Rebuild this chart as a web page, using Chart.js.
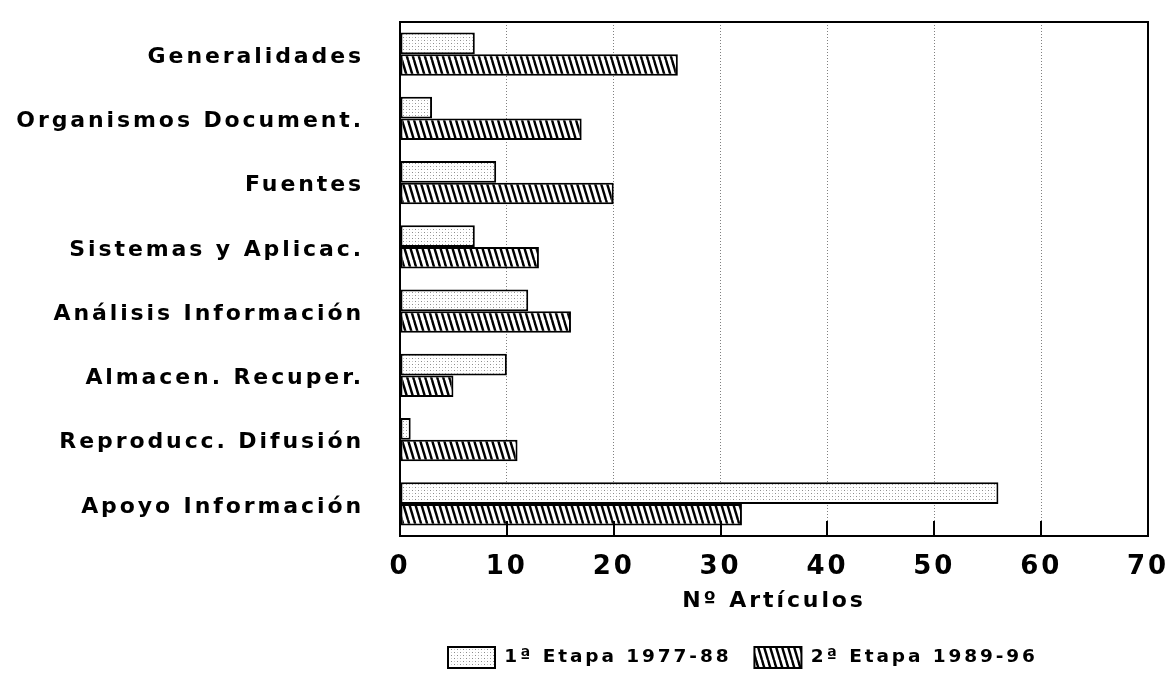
<!DOCTYPE html>
<html><head><meta charset="utf-8">
<script src="https://cdn.jsdelivr.net/npm/chart.js@4/dist/chart.umd.min.js"></script>
<style>html,body{margin:0;padding:0;background:#fff}#wrap{width:1169px;height:673px;position:relative}</style>
</head><body><div id="wrap"><canvas id="c"></canvas></div>
<script>
const categories = ['Generalidades','Organismos Document.','Fuentes','Sistemas y Aplicac.','Análisis Información','Almacen. Recuper.','Reproducc. Difusión','Apoyo Información'];
const seriesNames = ['1ª Etapa 1977-88','2ª Etapa 1989-96'];
const etapa1 = [7,3,9,7,12,10,1,56];
const etapa2 = [26,17,20,13,16,5,11,32];
const xTicks = [0,10,20,30,40,50,60,70];
const axisTitle = 'Nº Artículos';

const FONT = "'DejaVu Sans', sans-serif";
const SPACING = '2.9px';

function stipple(){
  const c=document.createElement('canvas'); c.width=6; c.height=6;
  const g=c.getContext('2d');
  g.fillStyle='#fff'; g.fillRect(0,0,6,6);
  g.fillStyle='#8a8a8a'; g.fillRect(1,1,1,1); g.fillRect(4,4,1,1);
  g.fillStyle='#c8c8c8'; g.fillRect(4,1,1,1); g.fillRect(1,4,1,1);
  return g.createPattern(c,'repeat');
}
function hatch(){
  const w=6,h=20;
  const c=document.createElement('canvas'); c.width=w; c.height=h;
  const g=c.getContext('2d');
  g.fillStyle='#fff'; g.fillRect(0,0,w,h);
  g.strokeStyle='#000'; g.lineWidth=2.4;
  for(let k=-1;k<=1;k++){ g.beginPath(); g.moveTo(k*w,0); g.lineTo(k*w+w,h); g.stroke(); }
  return g.createPattern(c,'repeat');
}

const spacingPlugin = {
  id:'spacing',
  beforeLayout(chart){ chart.ctx.letterSpacing = SPACING; },
  beforeDraw(chart){ chart.ctx.letterSpacing = SPACING; }
};
const legendShift = {
  id:'legendShift',
  afterLayout(chart){
    const L = chart.legend; if(!L) return;
    const dx = 25, dy = 5;
    L.left += dx; L.right += dx; L.top += dy; L.bottom += dy;
  }
};
const framePlugin = {
  id:'frame',
  afterDatasetsDraw(chart){
    const {ctx, chartArea:a, scales:{x}} = chart;
    ctx.save();
    ctx.strokeStyle='#000'; ctx.lineWidth=2;
    ctx.strokeRect(a.left, a.top, a.right-a.left, a.bottom-a.top);
    xTicks.forEach(v=>{
      if(v===xTicks[0]||v===xTicks[xTicks.length-1]) return;
      const px = Math.round(x.getPixelForValue(v));
      ctx.beginPath(); ctx.moveTo(px, a.bottom-15); ctx.lineTo(px, a.bottom); ctx.stroke();
    });
    ctx.restore();
  }
};

const ctx = document.getElementById('c').getContext('2d');
new Chart(ctx, {
  type:'bar',
  data:{
    labels: categories,
    datasets:[
      {label: seriesNames[0], data: etapa1, backgroundColor: stipple(), borderColor:'#000', borderWidth:2, borderSkipped:false},
      {label: seriesNames[1], data: etapa2, backgroundColor: hatch(), borderColor:'#000', borderWidth:2, borderSkipped:false}
    ]
  },
  options:{
    indexAxis:'y',
    responsive:true, maintainAspectRatio:false, animation:false,
    categoryPercentage:0.67, barPercentage:1,
    layout:{padding:{top:22,right:21,left:0,bottom:0}},
    plugins:{
      tooltip:{enabled:false},
      legend:{
        position:'bottom', fullSize:false, align:'start',
        labels:{boxWidth:47, boxHeight:21, padding:23, color:'#000', font:{family:FONT, size:18.5, weight:'bold'}}
      }
    },
    scales:{
      x:{
        min:0, max:70,
        afterBuildTicks(s){ s.ticks = xTicks.map(v=>({value:v})); },
        afterFit(s){ s.paddingLeft = 0; s.paddingRight = 0; },
        grid:{display:true, drawTicks:false, lineWidth:1,
          color:c=> (c.tick && (c.tick.value===0||c.tick.value===70)) ? 'rgba(0,0,0,0)' : '#808080'},
        border:{display:true, color:'#000', width:2, dash:[1,2]},
        ticks:{color:'#000', padding:16, font:{family:FONT, size:26, weight:'bold'}, maxRotation:0},
        title:{display:true, text:axisTitle, color:'#000', font:{family:FONT, size:22, weight:'bold'}, padding:{top:-11,bottom:4.4}}
      },
      y:{
        afterFit(s){ s.width = 400; s.paddingTop = 0; s.paddingBottom = 0; },
        grid:{display:false, drawTicks:false},
        border:{display:true, color:'#000', width:2},
        ticks:{color:'#000', padding:36, labelOffset:3, font:{family:FONT, size:22, weight:'bold'}}
      }
    }
  },
  plugins:[spacingPlugin, legendShift, framePlugin]
});
</script></body></html>
